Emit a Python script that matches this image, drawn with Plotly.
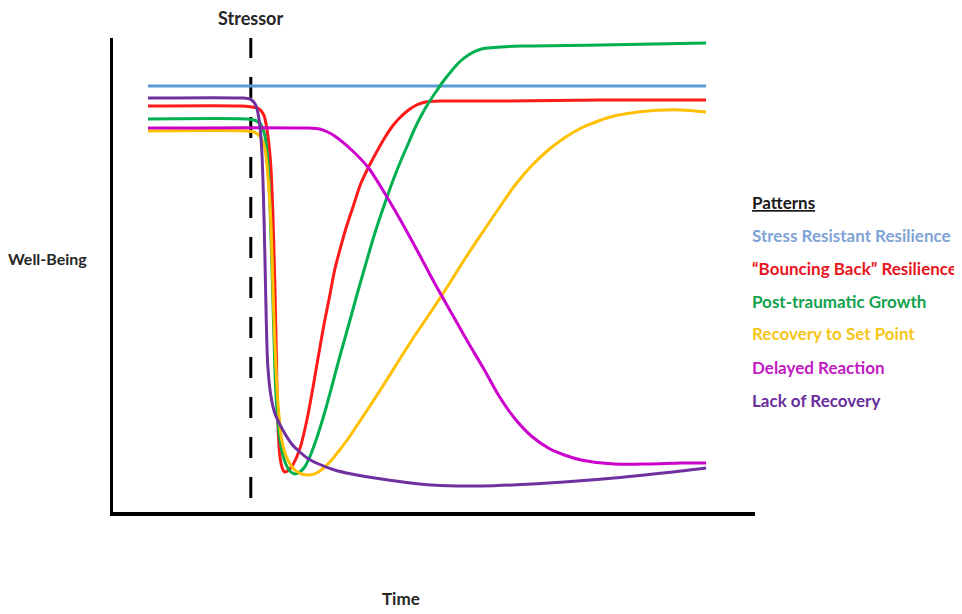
import plotly.graph_objects as go

# ---- data (arbitrary time / well-being units) ----
series_names = [
    "Stress Resistant Resilience",
    "\u201cBouncing Back\u201d Resilience",
    "Post-traumatic Growth",
    "Recovery to Set Point",
    "Delayed Reaction",
    "Lack of Recovery",
]

stress_resistant_t = [34, 593]
stress_resistant_wb = [431, 431]

bouncing_back_t = [34, 128, 138, 144, 150, 154, 157, 159, 161, 162.5, 164, 166, 168.5, 171,
                   175, 179, 183, 187, 191, 195, 199, 203, 207, 211, 216, 221, 227, 233, 240,
                   247, 255, 263, 271, 279, 287, 295, 303, 312, 330, 388, 488, 593]
bouncing_back_wb = [411, 411, 410, 409, 402, 382, 352, 307, 237, 167, 97, 62, 49, 45,
                    47, 52, 60, 71, 87, 106, 128, 151, 174, 196, 221, 247, 270, 291, 312,
                    333, 350, 365, 379, 391, 400, 407, 412, 415, 416, 416, 417, 417]

growth_t = [34, 133, 140, 146, 151, 154, 156, 158, 160, 162, 165, 168, 172, 176, 181, 186, 191,
            196, 201, 206, 212, 218, 226, 235, 243, 251, 261, 271, 280, 288, 295, 301, 308, 315,
            323, 330, 338, 346, 355, 368, 388, 408, 488, 593]
growth_wb = [398, 398, 397, 394, 382, 357, 317, 257, 187, 127, 87, 67, 53, 46, 43, 45, 50,
             60, 73, 88, 108, 130, 160, 192, 221, 249, 283, 313, 338, 358, 374, 388, 402, 414,
             426, 436, 446, 455, 462, 468, 470, 471, 472, 474]

set_point_t = [34, 133, 140, 146, 151, 154, 157, 159, 161, 164, 168, 174, 181, 188, 195,
               203, 210, 218, 226, 235, 243, 251, 268, 285, 301, 318, 335, 352, 368, 385,
               401, 418, 435, 451, 468, 485, 501, 518, 535, 552, 568, 593]
set_point_wb = [386, 386, 385, 381, 369, 342, 297, 237, 177, 117, 77, 57, 47, 43, 42,
                44, 49, 57, 67, 79, 91, 103, 129, 156, 181, 206, 232, 259, 283, 308,
                331, 351, 367, 379, 389, 396, 401, 404, 406, 407, 407, 405]

delayed_t = [34, 193, 206, 214, 221, 238, 255, 274, 288, 305, 321, 338, 355, 371, 385, 401, 418, 435, 451, 468,
             501, 535, 568, 593]
delayed_wb = [389, 389, 388, 385, 381, 367, 349, 319, 295, 264, 234, 204, 174, 147, 122, 99, 81, 69, 62, 57,
              53, 53, 54, 54]

lack_t = [34, 128, 136, 140, 143, 146, 148, 149.5, 151, 152.5, 154, 157, 161, 168, 178, 185, 195, 205, 221, 238,
          268, 318, 368, 435, 501, 568, 593]
lack_wb = [419, 419, 418, 415, 409, 392, 367, 327, 267, 197, 152, 122, 104, 89, 73, 66, 58, 53, 47, 43,
           38, 32, 31, 34, 39, 46, 49]

stressor_t = 137
stressor_wb_range = [19, 479]

line_colors = ["#5B9BD5", "#FF1A1A", "#00B050", "#FFC000", "#CC00CC", "#7030A0"]
text_colors = ["#7FA3D6", "#E8141C", "#12A24E", "#F5C518", "#C21BC2", "#6A2E9A"]

xs = [stress_resistant_t, bouncing_back_t, growth_t, set_point_t, delayed_t, lack_t]
ys = [stress_resistant_wb, bouncing_back_wb, growth_wb, set_point_wb, delayed_wb, lack_wb]

fig = go.Figure()
for name, x, y, c in zip(series_names, xs, ys, line_colors):
    fig.add_trace(go.Scatter(x=x, y=y, mode="lines", name=name,
                             line=dict(color=c, width=3, shape="spline", smoothing=0.8),
                             showlegend=False, hoverinfo="skip"))

# stressor marker
fig.add_shape(type="line", xref="x", yref="y", x0=stressor_t, x1=stressor_t,
              y0=stressor_wb_range[0], y1=stressor_wb_range[1],
              line=dict(color="black", width=3, dash="21px,19px"), layer="below")

# page has an 8px body margin -> compensate
OFF = 8
W, H = 962 - OFF, 614 - OFF
L, T = 113 - OFF, 38 - OFF
R = W - (755 - OFF)
B = H - (512 - OFF)
pw, ph = W - L - R, H - T - B


def px2paper_x(px):
    return (px - OFF - L) / pw


def px2paper_y(py):
    return (H - B - (py - OFF)) / ph


font_family = "Lato"
label_color = "#262626"

fig.add_annotation(x=stressor_t, xref="x", y=px2paper_y(18), yref="paper", text="Stressor",
                   showarrow=False, xanchor="center", yanchor="middle",
                   font=dict(family=font_family, size=18, color=label_color, weight="bold"))
fig.add_annotation(x=px2paper_x(47), xref="paper", y=px2paper_y(259), yref="paper", text="Well-Being",
                   showarrow=False, xanchor="center", yanchor="middle",
                   font=dict(family=font_family, size=16, color=label_color, weight="bold"))
fig.add_annotation(x=px2paper_x(401), xref="paper", y=px2paper_y(598), yref="paper", text="Time",
                   showarrow=False, xanchor="center", yanchor="middle",
                   font=dict(family=font_family, size=17, color=label_color, weight="bold"))

legend_x = px2paper_x(750)
fig.add_annotation(x=legend_x, xref="paper", y=px2paper_y(203), yref="paper", text="Patterns",
                   showarrow=False, xanchor="left", yanchor="middle",
                   font=dict(family=font_family, size=17, color="#1a1a1a", weight="bold",
                             lineposition="under"))
legend_y = [235, 268, 301, 334, 367, 400]
for name, c, py in zip(series_names, text_colors, legend_y):
    fig.add_annotation(x=legend_x, xref="paper", y=px2paper_y(py), yref="paper", text=name,
                       showarrow=False, xanchor="left", yanchor="middle",
                       font=dict(family=font_family, size=17, color=c, weight="bold"))

fig.update_layout(
    width=W, height=H,
    margin=dict(l=L, r=R, t=T, b=B, pad=0),
    paper_bgcolor="white", plot_bgcolor="white",
    xaxis=dict(range=[-1, 642], showgrid=False, zeroline=False, showticklabels=False, ticks="",
               showline=True, linecolor="black", linewidth=4),
    yaxis=dict(range=[5, 479], showgrid=False, zeroline=False, showticklabels=False, ticks="",
               showline=True, linecolor="black", linewidth=3),
)

fig.write_html("out.html")
